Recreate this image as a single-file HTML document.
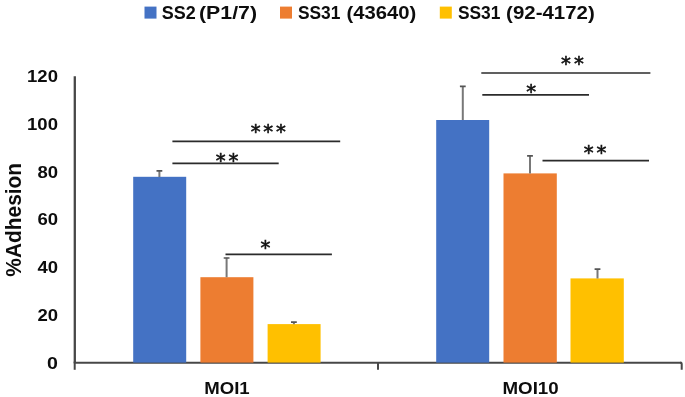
<!DOCTYPE html>
<html><head><meta charset="utf-8"><title>Adhesion chart</title>
<style>
html,body{margin:0;padding:0;background:#fff;}
svg{display:block;filter:blur(0.4px);}
text{font-family:"Liberation Sans",sans-serif;font-weight:bold;fill:#0d0d0d;}
.st{font-family:"DejaVu Sans",sans-serif;font-weight:normal;fill:#111;stroke:#111;stroke-width:.6;}
</style></head><body>
<svg width="685" height="397" viewBox="0 0 685 397">
<rect width="685" height="397" fill="#fff"/>
<!-- legend -->
<rect x="144.5" y="6.6" width="12" height="12" fill="#4472c4"/>
<text id="l1" y="19.2" font-size="18.5"><tspan x="161.8" textLength="34" lengthAdjust="spacingAndGlyphs">SS2</tspan> <tspan x="199" textLength="58" lengthAdjust="spacingAndGlyphs">(P1/7)</tspan></text>
<rect x="280" y="6.6" width="12" height="12" fill="#ed7d31"/>
<text id="l2" y="19.2" font-size="18.5"><tspan x="297.9" textLength="42.5" lengthAdjust="spacingAndGlyphs">SS31</tspan> <tspan x="346.5" textLength="69.8" lengthAdjust="spacingAndGlyphs">(43640)</tspan></text>
<rect x="439.8" y="6.6" width="12" height="12" fill="#ffc000"/>
<text id="l3" y="19.2" font-size="18.5"><tspan x="457.9" textLength="42.5" lengthAdjust="spacingAndGlyphs">SS31</tspan> <tspan x="506.1" textLength="88.7" lengthAdjust="spacingAndGlyphs">(92-4172)</tspan></text>
<!-- y labels -->
<g font-size="17.2">
<text id="y120" x="27.05" y="82.2" textLength="30.9" lengthAdjust="spacingAndGlyphs">120</text>
<text id="y100" x="27.05" y="129.8" textLength="30.9" lengthAdjust="spacingAndGlyphs">100</text>
<text id="y80" x="37.45" y="178.1" textLength="20.6" lengthAdjust="spacingAndGlyphs">80</text>
<text id="y60" x="37.45" y="224.9" textLength="20.6" lengthAdjust="spacingAndGlyphs">60</text>
<text id="y40" x="37.45" y="272.8" textLength="20.6" lengthAdjust="spacingAndGlyphs">40</text>
<text id="y20" x="37.45" y="321.3" textLength="20.6" lengthAdjust="spacingAndGlyphs">20</text>
<text id="y0" x="47.0" y="368.9" textLength="10.9" lengthAdjust="spacingAndGlyphs">0</text>
</g>
<text id="yt" transform="translate(21.4,276.7) rotate(-90)" font-size="21.5" textLength="113.8" lengthAdjust="spacingAndGlyphs">%Adhesion</text>
<!-- axes -->
<g stroke="#474747" stroke-width="2" fill="none">
<path stroke-width="2.3" d="M74.8 76.3V362.7"/>
<path d="M74.7 361.7V369.8"/>
<path d="M73.8 362.7H681.7"/>
<path d="M378 362.7V369.8"/>
<path d="M680 362.7H680.7Q681.7 362.7 681.7 363.7V369.8"/>
</g>
<!-- bars -->
<rect x="133.2" y="176.8" width="53" height="185.8" fill="#4472c4"/>
<rect x="200.4" y="277.2" width="53" height="85.4" fill="#ed7d31"/>
<rect x="267.6" y="324.1" width="53" height="38.5" fill="#ffc000"/>
<rect x="436.2" y="120" width="53" height="242.6" fill="#4472c4"/>
<rect x="503.5" y="173.4" width="53.3" height="189.2" fill="#ed7d31"/>
<rect x="570.5" y="278.4" width="53.3" height="84.2" fill="#ffc000"/>
<!-- error bars -->
<g fill="none">
<path stroke="#787878" stroke-width="2" d="M159.4 177V170.6M226.6 277.3V257.8M293.9 324.2V322M462.8 120V86.2M530 173.5V155.7M597.5 278.5V269"/>
<path stroke="#555" stroke-width="1.7" d="M156.5 170.8h5.8M223.7 258h5.8M291 322.1h5.8M459.9 86.4h5.8M527.1 155.9h5.8M594.6 269.2h5.8"/>
</g>
<!-- category labels -->
<text id="c1" x="204.3" y="393.9" font-size="17" textLength="45.4" lengthAdjust="spacingAndGlyphs">MOI1</text>
<text id="c2" x="502.5" y="393.9" font-size="17" textLength="56.2" lengthAdjust="spacingAndGlyphs">MOI10</text>
<!-- significance -->
<g stroke="#2b2b2b" stroke-width="1.7" fill="none">
<path d="M172.4 141.3H340.2"/>
<path d="M172.4 163.3H278.7"/>
<path d="M225.5 254.3H331.9"/>
<path d="M481.3 73H650.4"/>
<path d="M482.3 94.9H589"/>
<path d="M542.5 160.7H649"/>
</g>
<g class="st" font-size="19.7">
<text class="st" id="s1" x="250.65" y="138.1" letter-spacing="2.85">***</text>
<text class="st" id="s2" x="215.8" y="166.5" letter-spacing="2.85">**</text>
<text class="st" id="s3" x="260.55" y="253.7">*</text>
<text class="st" id="s4" x="561.1" y="69.9" letter-spacing="2.95">**</text>
<text class="st" id="s5" x="526.2" y="98.3">*</text>
<text class="st" id="s6" x="583.8" y="158.9" letter-spacing="2.85">**</text>
</g>
</svg>
</body></html>
